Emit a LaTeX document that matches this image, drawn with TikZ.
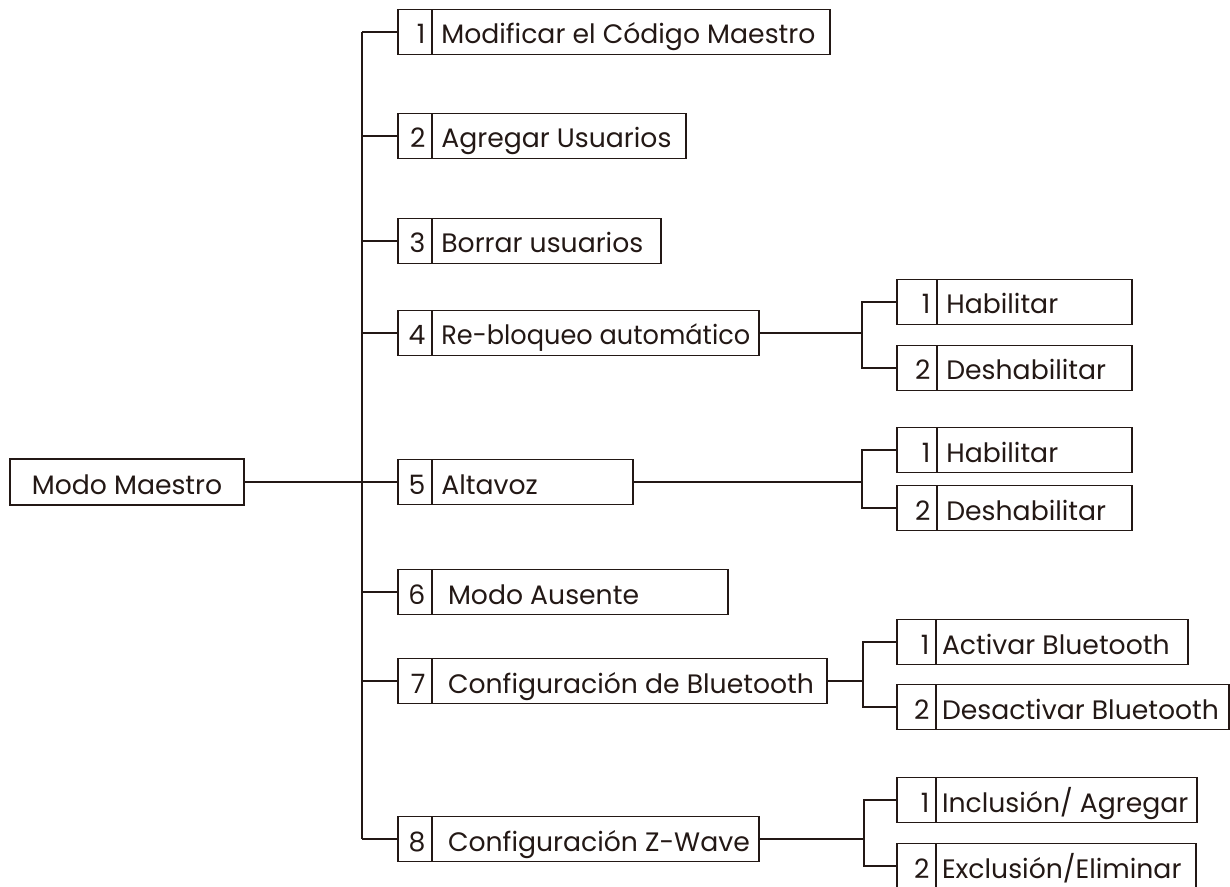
\documentclass[tikz,border=0pt]{standalone}
\usepackage{graphicx}
\usepackage{fontspec}
\setmainfont{Poppins}
\definecolor{ink}{RGB}{35,24,21}
\tikzset{
  frame/.style={draw=ink, line width=1.1pt, inner sep=0pt, outer sep=0pt,
    minimum height=33.75pt, text=ink, text height=21pt, text depth=3pt,
    font=\fontsize{20}{24}\selectfont},
  link/.style={draw=ink, line width=0.9pt},
}
% #1 name, #2 x left, #3 x divider, #4 x right, #5 y centre, #6 number, #7 text, #8 indent (pt)
\newcommand{\entry}[8]{%
  \pgfmathsetmacro{\wn}{(#3-#2)*0.75}%
  \pgfmathsetmacro{\wt}{(#4-#3)*0.75}%
  \node[frame, minimum width=\wn pt, anchor=west] (#1n) at (#2,#5)
    {\makebox[\dimexpr\wn pt-10pt\relax][r]{#6}};
  \node[frame, minimum width=\wt pt, anchor=west] (#1) at (#1n.east)
    {\makebox[\wt pt][l]{\hspace*{#8pt}#7}};
}
\begin{document}
\begin{tikzpicture}[x=0.75pt,y=-0.75pt]
\useasboundingbox (0,0) rectangle (1230,887);
\coordinate (t) at (362,0);
\coordinate (j4) at (862,0);
\coordinate (j5) at (862,0);
\coordinate (j7) at (863,0);
\coordinate (j8) at (864,0);

\node[frame, minimum width=175.5pt, minimum height=34.5pt] (mm) at (127,482) {Modo Maestro};

\entry{c1}{398}{432}{830}{32}{1}{Modificar el Código Maestro}{7}
\entry{c2}{398}{432}{686}{136}{2}{Agregar Usuarios}{7}
\entry{c3}{398}{432}{661}{241}{3}{Borrar usuarios}{7}
\entry{c4}{398}{432}{759}{333}{4}{\scalebox{0.96}[1]{Re-bloqueo automático}}{7}
\entry{c5}{398}{432}{633}{482}{5}{Altavoz}{7}
\entry{c6}{398}{432}{728}{592}{6}{Modo Ausente}{12}
\entry{c7}{398}{432}{827}{681}{7}{Configuración de Bluetooth}{12}
\entry{c8}{398}{432}{759}{839}{8}{Configuración Z-Wave}{12}

\entry{s41}{897}{937}{1132}{302}{1}{Habilitar}{7}
\entry{s42}{897}{937}{1132}{368}{2}{Deshabilitar}{7}
\entry{s51}{897}{937}{1132}{450}{1}{Habilitar}{7}
\entry{s52}{897}{937}{1132}{508}{2}{Deshabilitar}{7}
\entry{s71}{897}{936}{1188}{642}{1}{Activar Bluetooth}{4.5}
\entry{s72}{897}{936}{1229}{707}{2}{Desactivar Bluetooth}{4.5}
\entry{s81}{897}{936}{1197}{800}{1}{Inclusión/ Agregar}{4.5}
\entry{s82}{897}{936}{1196}{866}{2}{Exclusión/Eliminar}{4.5}

% trunk
\draw[link] (mm.east) -- (mm.east -| t);
\draw[link] (c1n.west -| t) -- (c8n.west -| t);
\foreach \c in {c1,c2,c3,c4,c5,c6,c7,c8}
  \draw[link] (\c n.west -| t) -- (\c n.west);

% sub branches
\draw[link] (c4.east) -- (c4.east -| j4);
\draw[link] (s41n.west) -- (s41n.west -| j4) -- (s42n.west -| j4) -- (s42n.west);
\draw[link] (c5.east) -- (c5.east -| j5);
\draw[link] (s51n.west) -- (s51n.west -| j5) -- (s52n.west -| j5) -- (s52n.west);
\draw[link] (c7.east) -- (c7.east -| j7);
\draw[link] (s71n.west) -- (s71n.west -| j7) -- (s72n.west -| j7) -- (s72n.west);
\draw[link] (c8.east) -- (c8.east -| j8);
\draw[link] (s81n.west) -- (s81n.west -| j8) -- (s82n.west -| j8) -- (s82n.west);
\end{tikzpicture}
\end{document}
